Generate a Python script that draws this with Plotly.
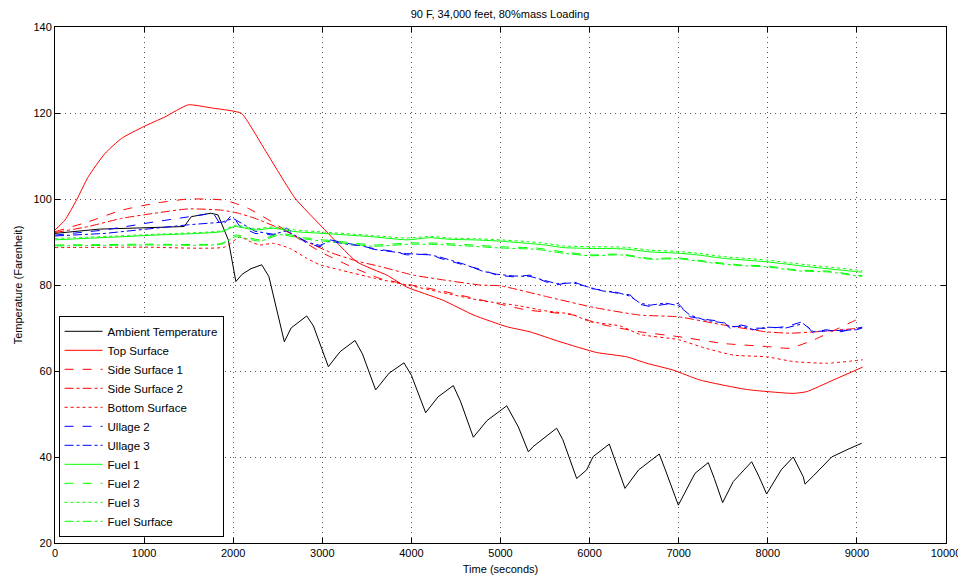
import plotly.graph_objects as go

# ---------------- data ----------------
amb_t = [0, 500, 1000, 1450, 1530, 1750, 1830, 1945, 2030, 2100, 2200, 2320, 2400, 2574, 2650, 2825, 2900,
         3068, 3200, 3367, 3450, 3599, 3750, 3917, 4000, 4160, 4300, 4470, 4550, 4695, 4850, 5070, 5200,
         5313, 5365, 5500, 5630, 5700, 5855, 5967, 6040, 6221, 6300, 6397, 6550, 6782, 6850, 6996, 7183,
         7332, 7400, 7493, 7613, 7819, 7900, 7987, 8150, 8286, 8398, 8418, 8511, 8717, 8900, 9054]
amb_v = [92.0, 93.0, 93.3, 93.6, 95.9, 96.7, 96.3, 90.5, 80.8, 82.5, 83.8, 84.7, 82.0, 66.8, 70.0, 72.8, 70.5,
         61.0, 64.5, 67.1, 64.0, 55.6, 59.5, 61.9, 59.0, 50.3, 54.0, 56.6, 53.0, 44.6, 48.5, 51.9, 47.0,
         41.2, 42.4, 44.5, 46.7, 44.0, 35.0, 37.0, 40.1, 43.0, 38.5, 32.7, 37.0, 40.7, 37.0, 28.8, 36.2,
         38.7, 35.0, 29.4, 34.3, 38.9, 35.5, 31.4, 37.0, 40.0, 35.4, 33.7, 35.6, 40.0, 41.8, 43.2]

top_t = [0, 112, 243, 374, 561, 748, 991, 1235, 1496, 1750, 1983, 2095, 2357, 2694, 2993, 3386, 3723, 3950,
         4350, 4700, 5070, 5331, 5668, 6079, 6416, 6641, 6940, 7239, 7763, 8286, 8436, 8735, 9064]
top_v = [92.8, 95.1, 99.8, 105.2, 110.6, 114.1, 116.8, 119.1, 121.9, 121.2, 120.5, 119.9, 111.4, 100.2, 93.6,
         85.4, 82.3, 79.5, 76.5, 73.0, 70.3, 69.1, 66.8, 64.3, 63.3, 61.8, 60.2, 57.9, 55.7, 54.8, 55.2, 57.9, 60.9]

ss1_t = [0, 374, 748, 1122, 1496, 1871, 2020, 2170, 2450, 2700, 3000, 3300, 3650, 4000, 4300, 4957, 5294,
         5817, 6100, 6566, 6996, 7501, 7987, 8249, 8511, 8750, 8997, 9060]
ss1_v = [92.4, 94.7, 97.4, 99.0, 100.0, 99.8, 99.0, 97.8, 94.5, 91.2, 87.5, 84.5, 81.5, 80.0, 78.8, 75.7, 74.2,
         73.0, 71.0, 69.1, 68.0, 66.4, 65.7, 65.3, 67.2, 69.5, 71.9, 72.2]

ss2_t = [0, 374, 748, 1122, 1496, 1871, 2057, 2245, 2563, 2825, 3100, 3400, 3650, 4021, 4321, 4770, 5000,
         5518, 6042, 6566, 6996, 7501, 7987, 8250, 8600, 8997, 9060]
ss2_v = [92.2, 93.6, 95.5, 96.7, 97.7, 97.4, 96.7, 95.5, 92.8, 90.1, 87.5, 85.5, 84.3, 82.3, 81.3, 80.0, 79.8,
         77.3, 74.8, 73.0, 72.6, 70.7, 69.1, 68.8, 69.2, 69.9, 70.0]

bot_t = [0, 1000, 1900, 2076, 2200, 2301, 2450, 2638, 2825, 2974, 3200, 3600, 4000, 4400, 4800, 5200, 5500,
         5800, 6000, 6340, 6566, 6996, 7300, 7613, 7987, 8286, 8660, 9064]
bot_v = [88.7, 88.8, 88.8, 91.2, 90.0, 89.3, 89.7, 88.5, 86.2, 84.7, 83.5, 81.5, 79.8, 78.0, 76.3, 75.2, 74.0,
         73.2, 71.5, 70.5, 68.5, 67.3, 65.3, 63.7, 63.3, 62.2, 61.8, 62.6]

ul2_t = [0, 561, 1122, 1496, 1777, 1871, 1983, 2076, 2245, 2450, 2600, 2825, 2974, 3086, 3300, 3460, 3573,
         3800, 3947, 4209, 4321, 4583, 4800, 4957, 5150, 5331, 5500, 5630, 5817, 6004, 6150, 6304, 6453,
         6566, 6678, 6850, 6996, 7127, 7300, 7501, 7576, 7700, 7850, 7987, 8200, 8398, 8511, 8650, 8810,
         8997, 9060]
ul2_v = [91.6, 92.8, 94.7, 95.9, 96.7, 93.6, 96.3, 93.6, 92.0, 91.6, 93.2, 89.7, 88.9, 90.5, 89.6, 88.9, 88.5,
         87.8, 87.0, 87.2, 86.2, 84.7, 83.5, 82.3, 81.9, 82.3, 80.8, 80.0, 80.8, 79.2, 78.8, 78.1, 77.7,
         75.5, 75.0, 75.5, 75.7, 72.6, 72.0, 71.5, 69.9, 70.7, 70.0, 69.9, 70.3, 71.5, 68.8, 69.6, 69.1,
         69.9, 70.2]

ul3_t = [0, 561, 1122, 1496, 1871, 2000, 2245, 2450, 2600, 2825, 2974, 3086, 3300, 3460, 3573, 3800, 3947,
         4209, 4321, 4583, 4800, 4957, 5150, 5331, 5500, 5630, 5817, 6004, 6150, 6304, 6453, 6566, 6678,
         6850, 6996, 7127, 7300, 7501, 7576, 7700, 7850, 7987, 8200, 8398, 8511, 8650, 8810, 8997, 9060]
ul3_v = [91.4, 92.0, 93.2, 94.0, 94.6, 95.5, 92.5, 91.8, 92.6, 90.0, 89.2, 90.2, 89.4, 89.1, 88.3, 87.6, 87.3,
         87.0, 86.5, 84.9, 83.2, 82.5, 82.1, 82.0, 81.0, 80.3, 80.5, 79.5, 78.6, 78.3, 77.4, 75.8, 75.3,
         75.8, 75.2, 73.0, 71.8, 71.2, 70.3, 70.4, 69.6, 70.2, 70.0, 71.0, 69.2, 69.3, 69.4, 69.6, 70.0]

f1_t = [0, 1122, 1871, 2020, 2245, 2450, 2700, 3012, 3300, 3573, 3947, 4209, 4450, 4695, 5000, 5294, 5500,
        5705, 6004, 6378, 6678, 6996, 7250, 7501, 7987, 8436, 8997, 9060]
f1_v = [90.5, 91.6, 92.4, 93.6, 92.8, 93.2, 92.4, 92.0, 91.6, 91.2, 90.5, 91.0, 90.6, 90.5, 90.2, 89.7, 89.3,
        88.7, 88.5, 88.4, 87.7, 87.4, 86.9, 86.2, 85.4, 84.3, 83.1, 83.0]

f2_t = [0, 1000, 1871, 2020, 2301, 2525, 2800, 3012, 3300, 3573, 4000, 4321, 4695, 5000, 5400, 5705, 6004,
        6350, 6678, 7000, 7350, 7688, 8000, 8324, 8700, 8997, 9060]
f2_v = [89.3, 89.5, 89.7, 91.6, 90.5, 92.0, 91.0, 90.5, 89.9, 89.3, 89.8, 89.7, 89.3, 88.9, 88.6, 87.7, 87.0,
        87.2, 86.2, 86.3, 85.4, 84.7, 84.4, 83.5, 83.2, 82.3, 82.2]

f3_t = [0, 1122, 1871, 2020, 2245, 2450, 2700, 3012, 3300, 3573, 3947, 4209, 4450, 4695, 5000, 5294, 5500,
        5705, 6004, 6378, 6678, 6996, 7250, 7501, 7987, 8436, 8997, 9060]
f3_v = [90.8, 91.8, 92.6, 93.9, 93.1, 93.5, 92.8, 92.3, 91.9, 91.5, 90.9, 91.3, 90.9, 90.8, 90.5, 90.1, 89.7,
        89.1, 88.9, 88.8, 88.1, 87.8, 87.3, 86.6, 85.8, 84.7, 83.5, 83.3]

fs_t = [0, 1000, 1871, 2020, 2301, 2525, 2800, 3012, 3300, 3573, 4000, 4321, 4695, 5000, 5400, 5705, 6004,
        6350, 6678, 7000, 7350, 7688, 8000, 8324, 8700, 8997, 9060]
fs_v = [89.1, 89.3, 89.5, 91.2, 90.2, 91.7, 90.7, 90.2, 89.6, 89.0, 89.5, 89.4, 89.0, 88.6, 88.3, 87.4, 86.8,
        87.0, 86.0, 86.1, 85.2, 84.5, 84.2, 83.3, 83.0, 82.1, 82.0]

x_ticks = [0, 1000, 2000, 3000, 4000, 5000, 6000, 7000, 8000, 9000, 10000]
y_ticks = [20, 40, 60, 80, 100, 120, 140]

series = [
    ("Ambient Temperature", amb_t, amb_v, "#000000", "solid", "linear"),
    ("Top Surface", top_t, top_v, "#ff0000", "solid", "spline"),
    ("Side Surface 1", ss1_t, ss1_v, "#ff0000", "dash", "spline"),
    ("Side Surface 2", ss2_t, ss2_v, "#ff0000", "dashdot", "spline"),
    ("Bottom Surface", bot_t, bot_v, "#ff0000", "dot", "spline"),
    ("Ullage 2", ul2_t, ul2_v, "#0000ff", "dash", "linear"),
    ("Ullage 3", ul3_t, ul3_v, "#0000ff", "dashdot", "linear"),
    ("Fuel 1", f1_t, f1_v, "#00ff00", "solid", "spline"),
    ("Fuel 2", f2_t, f2_v, "#00ff00", "dash", "spline"),
    ("Fuel 3", f3_t, f3_v, "#00ff00", "dot", "spline"),
    ("Fuel Surface", fs_t, fs_v, "#00ff00", "dashdot", "spline"),
]

fig = go.Figure()
for name, t, v, col, dash, shape in series:
    line = dict(color=col, width=1, dash=dash, shape=shape)
    if shape == "spline":
        line["smoothing"] = 0.5
    fig.add_trace(go.Scatter(x=t, y=v, mode="lines", name=name, line=line))

# The page body has an 8px margin, so the figure is laid out 8px in from the window corner.
font = dict(family="Liberation Sans, Arial, sans-serif", size=11, color="#000000")
fig.update_layout(
    width=966, height=577,
    margin=dict(l=47, r=28, t=19, b=42, autoexpand=False),
    paper_bgcolor="#ffffff", plot_bgcolor="#ffffff",
    font=font,
    title=dict(text="90 F, 34,000 feet, 80%mass Loading", x=0.5093, xanchor="center",
               y=0.9896, yanchor="middle", font=dict(size=11), automargin=False),
    legend=dict(x=0.004, y=0.012, xanchor="left", yanchor="bottom",
                bordercolor="#000000", borderwidth=1, bgcolor="#ffffff",
                font=dict(size=11.5), tracegroupgap=0, itemwidth=38),
    showlegend=True,
)
grid_dash = "1px,4px"
fig.update_xaxes(range=[0, 10000], tickvals=x_ticks, ticktext=[str(v) for v in x_ticks],
                 showline=True, linecolor="#000000", linewidth=1, mirror="ticks",
                 ticks="inside", ticklen=5, tickcolor="#000000", automargin=False,
                 showgrid=True, gridcolor="#555555", griddash=grid_dash, gridwidth=1,
                 zeroline=False, title=dict(text="Time (seconds)", standoff=7, font=dict(size=11)))
fig.update_yaxes(range=[20, 140], tickvals=y_ticks, ticktext=[str(v) for v in y_ticks],
                 showline=True, linecolor="#000000", linewidth=1, mirror="ticks",
                 ticks="inside", ticklen=5, tickcolor="#000000", automargin=False,
                 showgrid=True, gridcolor="#555555", griddash=grid_dash, gridwidth=1,
                 zeroline=False, title=dict(text="Temperature (Farenheit)", standoff=8, font=dict(size=11)))

fig.write_html("out.html")
